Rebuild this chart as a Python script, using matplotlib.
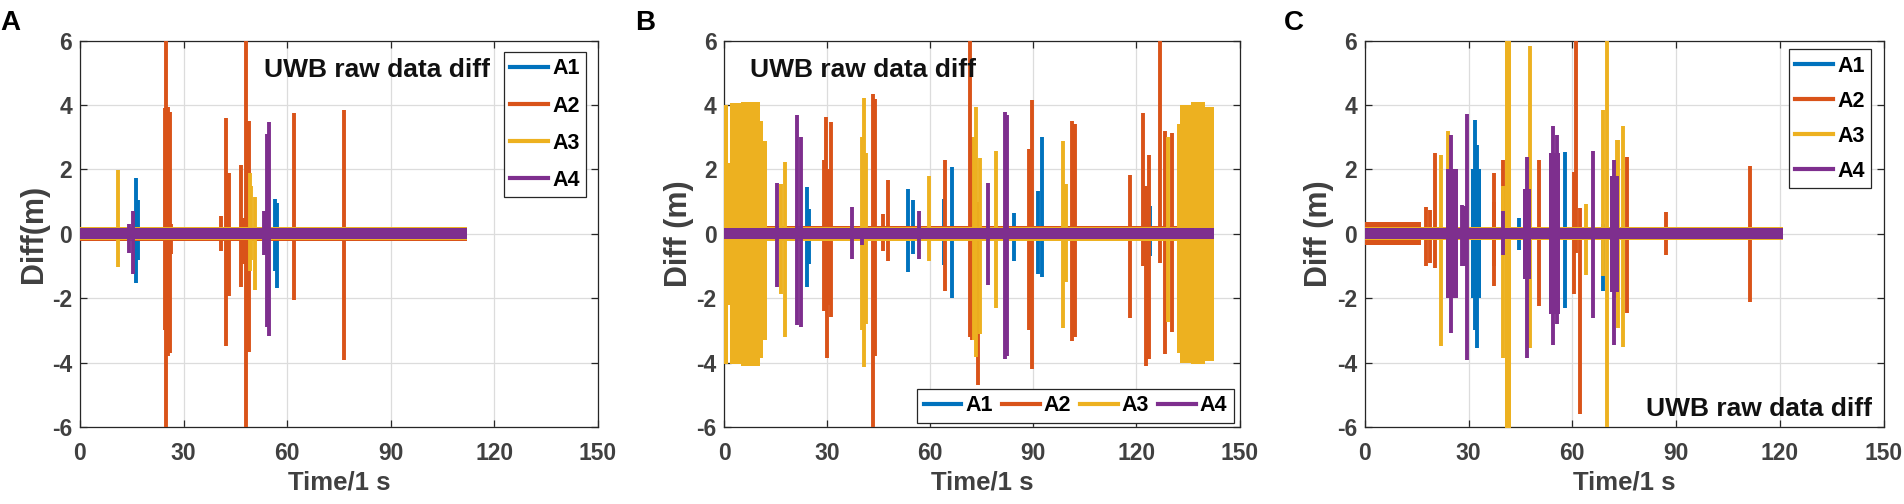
import matplotlib.pyplot as plt
from matplotlib.lines import Line2D

plt.rcParams['font.family'] = ['Liberation Sans', 'DejaVu Sans']
plt.rcParams['font.weight'] = 'bold'
plt.rcParams['axes.unicode_minus'] = False

names = ['A1', 'A2', 'A3', 'A4']
colors = ['#0072BD', '#D95319', '#EDB120', '#7E2F8E']

x_ticks = [0, 30, 60, 90, 120, 150]
y_ticks = [-6, -4, -2, 0, 2, 4, 6]

# baseline noise per series: (t_start, t_end, half width in m)
a_base = [[(0, 112.2, 0.2)], [(0, 112.2, 0.21)], [(0, 112.2, 0.2)], [(0, 112.2, 0.17)]]
b_base = [[(0, 142.7, 0.2)], [(0, 142.7, 0.23)], [(0, 142.7, 0.21)], [(0, 142.7, 0.17)]]
c_base = [[(0, 121.0, 0.19)], [(0, 16.3, 0.36), (16.3, 121.0, 0.2)],
          [(0, 121.0, 0.2)], [(0, 121.0, 0.17)]]

# spikes per series: (t, top, bottom)
a_spikes = [
    [(16.2, 1.74, -1.53), (16.8, 1.04, -0.8), (56.4, 1.09, -1.14), (57.2, 0.95, -1.68)],
    [(24.5, 3.9, -3.0), (24.8, 6.2, -6.2), (25.5, 3.93, -3.78), (26.0, 3.8, -3.7),
     (26.5, 0.3, -0.62), (41.0, 0.57, -0.52), (42.4, 3.6, -3.47), (43.2, 1.9, -1.92),
     (46.8, 2.15, -1.64), (47.2, 0.5, -0.93), (48.2, 6.2, -6.2), (49.0, 3.5, -3.67),
     (61.9, 3.75, -2.07), (76.5, 3.85, -3.93)],
    [(11.1, 1.99, -1.04), (49.2, 1.9, -1.14), (49.6, 1.5, -0.8), (50.7, 1.16, -1.73)],
    [(14.3, 0.3, -0.6), (15.4, 0.72, -1.24), (53.3, 0.72, -0.67), (54.3, 3.1, -2.9),
     (54.7, 3.46, -3.16)],
]
b_spikes = [
    [(24.0, 1.45, -1.64), (24.8, 0.78, -0.93), (53.6, 1.4, -1.19), (55.0, 1.04, -0.62),
     (64.0, 1.09, -0.98), (66.2, 2.07, -1.99), (84.3, 0.64, -0.85), (91.4, 1.33, -1.26),
     (92.6, 3.02, -1.35), (124.0, 0.86, -0.69)],
    [(29.0, 2.3, -2.4), (29.5, 3.64, -2.0), (30.0, 1.8, -3.85), (30.5, 2.0, -2.2),
     (31.1, 3.47, -2.59), (43.2, 4.35, -6.2), (43.9, 4.2, -3.78), (46.3, 0.62, -0.52),
     (47.8, 1.66, -0.85), (64.2, 2.3, -1.78), (71.5, 6.2, -3.2), (72.2, 3.0, -3.3),
     (73.9, 1.0, -4.7), (88.8, 2.64, -3.0), (89.5, 4.16, -4.19), (101.3, 3.5, -3.33),
     (102.2, 3.4, -3.2), (118.1, 1.84, -2.6), (122.0, 3.77, -1.0), (122.8, 1.5, -4.12),
     (123.6, 2.46, -3.9), (126.8, 6.2, -0.9), (128.3, 3.2, -3.73), (130.4, 3.13, -3.06)],
    [(1.4, 2.2, -2.2), (16.5, 1.55, -1.86), (17.6, 2.23, -3.2), (40.2, 3.0, -3.0),
     (40.7, 4.21, -4.14), (41.2, 2.5, -2.8), (59.7, 1.81, -0.85), (72.8, 3.0, -3.3),
     (73.3, 3.93, -3.83), (74.4, 2.36, -3.1), (79.1, 2.57, -2.3), (98.7, 2.9, -2.92),
     (99.5, 1.55, -1.5), (129.3, 3.0, -2.73)],
    [(15.4, 1.58, -1.66), (21.1, 3.7, -2.82), (22.2, 3.0, -2.88), (37.1, 0.83, -0.78),
     (40.0, 0.1, -0.36), (56.7, 0.72, -0.78), (76.7, 1.58, -1.6), (81.7, 3.78, -3.88),
     (82.4, 3.7, -3.8)],
]
c_spikes = [
    [(31.9, 3.55, -3.0), (32.4, 2.76, -3.54), (44.7, 0.5, -0.5), (57.9, 2.55, -2.3),
     (69.0, 0.3, -1.79)],
    [(17.8, 0.83, -1.01), (18.75, 0.74, -0.9), (20.2, 2.52, -1.06), (37.3, 1.0, -1.0),
     (37.5, 1.88, -1.63), (39.9, 2.29, -0.4), (50.5, 2.29, -2.23), (60.4, 1.93, -1.86),
     (61.2, 6.2, -0.6), (62.3, 0.8, -5.6), (75.7, 2.38, -2.46), (87.0, 0.69, -0.65),
     (111.4, 2.11, -2.13)],
    [(22.1, 2.45, -3.49), (24.0, 3.2, -1.3), (40.0, 1.5, -3.85), (47.8, 5.83, -3.54),
     (63.9, 0.93, -1.27), (68.8, 3.86, -1.32), (70.0, 6.2, -6.2), (72.9, 2.91, -2.0),
     (73.3, 2.93, -2.92), (74.6, 3.35, -3.51)],
    [(24.8, 3.07, -3.08), (28.0, 0.9, -1.0), (28.8, 0.85, -1.0), (29.5, 3.72, -3.93),
     (40.1, 0.7, -0.65), (46.8, 2.4, -3.85), (54.5, 3.35, -3.44), (55.7, 3.07, -2.8),
     (65.9, 2.58, -2.61), (72.1, 2.29, -3.44)],
]

# dense oscillation stretches: (t_start, t_end, top, bottom)
a_blocks = [[], [], [], []]
b_blocks = [[], [],
            [(0, 1.2, 4.0, -4.05), (1.6, 5.0, 4.05, -4.05), (5.0, 10.3, 4.1, -4.1),
             (10.3, 11.3, 3.5, -3.85), (11.3, 12.3, 2.9, -3.3),
             (131.8, 132.6, 3.4, -3.7), (132.6, 136.0, 4.0, -4.0),
             (136.0, 140.0, 4.1, -4.05), (140.0, 142.7, 3.95, -3.95)],
            []]
c_blocks = [[(30.8, 33.5, 2.0, -2.0)], [], [(40.5, 42.4, 6.2, -6.2)],
            [(23.6, 27.0, 2.0, -2.0), (45.8, 48.0, 1.4, -1.4), (53.4, 56.3, 2.5, -2.5),
             (70.8, 73.5, 1.8, -1.8)]]


def draw_panel(ax, base, spikes, blocks):
    for k in range(4):
        z = 2 + k
        for t0, t1, amp in base[k]:
            ax.fill_between([t0, t1], [-amp, -amp], [amp, amp], color=colors[k], lw=0, zorder=z)
        for t0, t1, top, bot in blocks[k]:
            ax.fill_between([t0, t1], [bot, bot], [top, top], color=colors[k], lw=0, zorder=z)
        if spikes[k]:
            t, top, bot = zip(*spikes[k])
            ax.vlines(t, bot, top, color=colors[k], lw=2.8, zorder=z)


def style_axes(ax, ylabel):
    ax.set_xlim(0, 150)
    ax.set_ylim(-6, 6)
    ax.set_xticks(x_ticks)
    ax.set_yticks(y_ticks)
    ax.grid(True, color='#dcdcdc', lw=0.9)
    ax.set_axisbelow(True)
    ax.tick_params(direction='in', top=True, right=True, length=5, width=0.9,
                   color='#262626', labelsize=16.5, labelcolor='#404040')
    ax.tick_params(axis='x', pad=10.5)
    ax.tick_params(axis='y', pad=5.5)
    for s in ax.spines.values():
        s.set_color('#262626')
        s.set_linewidth(0.9)
    ax.set_xlabel('Time/1 s', fontsize=18.5, fontweight='bold', color='#404040', labelpad=4)
    ax.set_ylabel(ylabel, fontsize=22, fontweight='bold', color='#404040', labelpad=2)


def add_legend(ax, **kw):
    handles = [Line2D([], [], color=c, lw=3) for c in colors]
    leg = ax.legend(handles, names, fontsize=15.5, frameon=True, fancybox=False,
                    framealpha=1, edgecolor='#262626', handlelength=1.75,
                    handletextpad=0.2, borderpad=0.3, borderaxespad=0, **kw)
    leg.get_frame().set_linewidth(0.9)
    for txt in leg.get_texts():
        txt.set_fontweight('bold')
    return leg


fig = plt.figure(figsize=(19.04, 5.04), dpi=100)
ax_a = fig.add_axes([0.0420, 0.1528, 0.2719, 0.7664])
ax_b = fig.add_axes([0.3804, 0.1528, 0.2706, 0.7664])
ax_c = fig.add_axes([0.7168, 0.1528, 0.2725, 0.7664])

draw_panel(ax_a, a_base, a_spikes, a_blocks)
draw_panel(ax_b, b_base, b_spikes, b_blocks)
draw_panel(ax_c, c_base, c_spikes, c_blocks)

style_axes(ax_a, 'Diff(m)')
style_axes(ax_b, 'Diff (m)')
style_axes(ax_c, 'Diff (m)')

add_legend(ax_a, loc='upper right', bbox_to_anchor=(0.9774, 0.9707), labelspacing=0.75)
add_legend(ax_b, loc='lower right', bbox_to_anchor=(0.989, 0.0116), ncol=4,
           columnspacing=0.4)
add_legend(ax_c, loc='upper right', bbox_to_anchor=(0.9757, 0.9783), labelspacing=0.65)

ax_a.text(0.356, 0.905, 'UWB raw data diff', transform=ax_a.transAxes, fontsize=19,
          fontweight='bold', color='#111111', ha='left', va='baseline', zorder=10)
ax_b.text(0.05, 0.905, 'UWB raw data diff', transform=ax_b.transAxes, fontsize=19,
          fontweight='bold', color='#111111', ha='left', va='baseline', zorder=10)
ax_c.text(0.978, 0.028, 'UWB raw data diff', transform=ax_c.transAxes, fontsize=19,
          fontweight='bold', color='#111111', ha='right', va='baseline', zorder=10)

for x, letter in [(0.0, 'A'), (0.3335, 'B'), (0.6744, 'C')]:
    fig.text(x, 0.94, letter, fontsize=20, fontweight='bold', color='black', va='baseline')

fig.savefig('out.png', dpi=100, facecolor='white')
